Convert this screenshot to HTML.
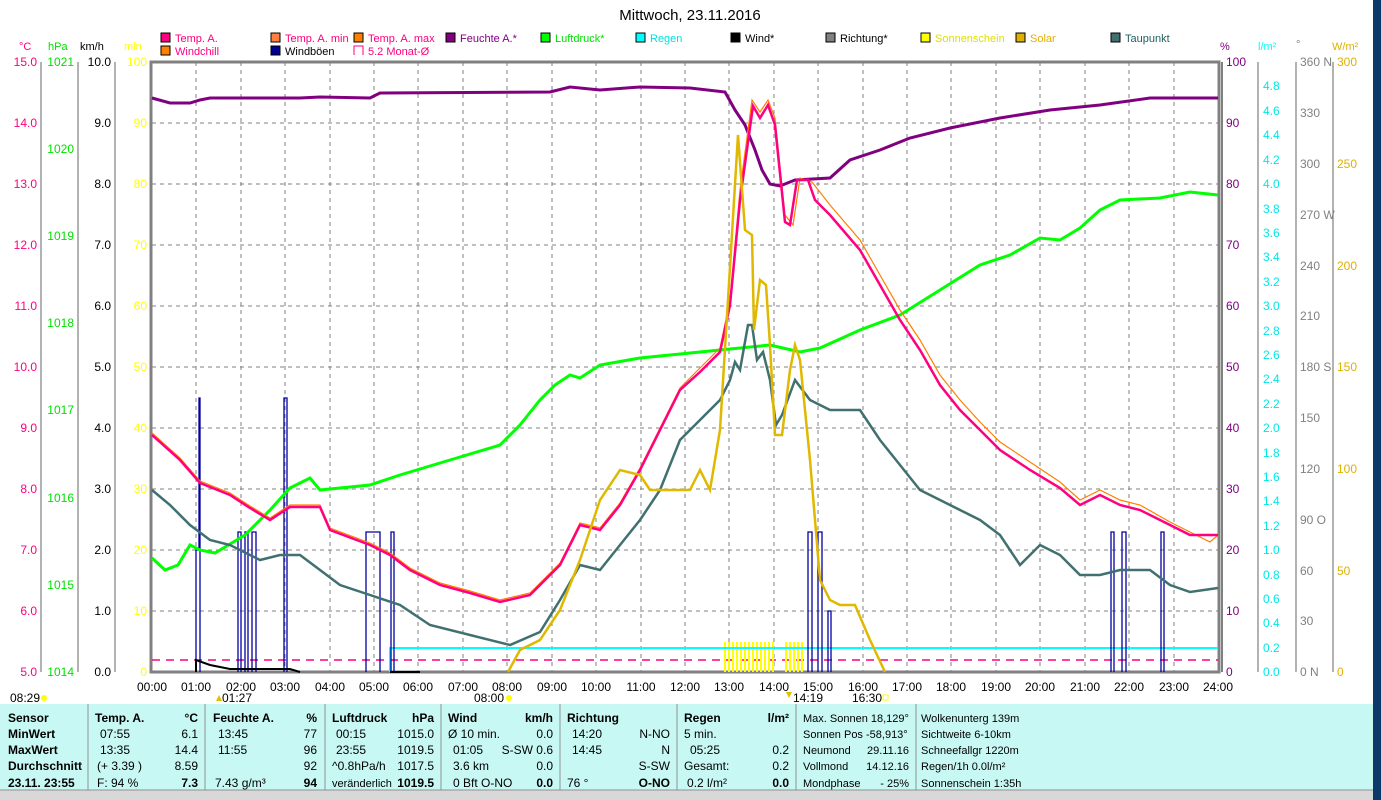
<!DOCTYPE html>
<html><head><meta charset="utf-8"><style>
body{margin:0;width:1381px;height:800px;overflow:hidden;background:#fff;font-family:"Liberation Sans",sans-serif}
svg{position:absolute;left:0;top:0}
</style></head><body>
<svg width="1381" height="800" viewBox="0 0 1381 800" font-family="Liberation Sans, sans-serif" font-size="12">
<rect x="1373" y="0" width="8" height="800" fill="#0b3a6a"/>
<text x="690" y="20" font-size="15" text-anchor="middle">Mittwoch, 23.11.2016</text>
<g font-size="11">
<rect x="161" y="33" width="9" height="9" fill="#ff0080" stroke="#000"/><text x="175" y="42" fill="#ff0080">Temp. A.</text>
<rect x="161" y="46" width="9" height="9" fill="#ff8000" stroke="#000"/><text x="175" y="55" fill="#ff0080">Windchill</text>
<rect x="271" y="33" width="9" height="9" fill="#ff8040" stroke="#000"/><text x="285" y="42" fill="#ff0080">Temp. A. min</text>
<rect x="271" y="46" width="9" height="9" fill="#000090" stroke="#000"/><text x="285" y="55">Windböen</text>
<rect x="354" y="33" width="9" height="9" fill="#ff8000" stroke="#000"/><text x="368" y="42" fill="#ff0080">Temp. A. max</text>
<path d="M354 55V46h9v9" fill="none" stroke="#ff0080"/><text x="368" y="55" fill="#ff0080">5.2 Monat-Ø</text>
<rect x="446" y="33" width="9" height="9" fill="#800080" stroke="#000"/><text x="460" y="42" fill="#800080">Feuchte A.*</text>
<rect x="541" y="33" width="9" height="9" fill="#00ff00" stroke="#000"/><text x="555" y="42" fill="#00e000">Luftdruck*</text>
<rect x="636" y="33" width="9" height="9" fill="#00ffff" stroke="#000"/><text x="650" y="42" fill="#00e0e0">Regen</text>
<rect x="731" y="33" width="9" height="9" fill="#000" stroke="#000"/><text x="745" y="42">Wind*</text>
<rect x="826" y="33" width="9" height="9" fill="#808080" stroke="#000"/><text x="840" y="42">Richtung*</text>
<rect x="921" y="33" width="9" height="9" fill="#ffff00" stroke="#000"/><text x="935" y="42" fill="#e0e000">Sonnenschein</text>
<rect x="1016" y="33" width="9" height="9" fill="#e0b000" stroke="#000"/><text x="1030" y="42" fill="#e0b000">Solar</text>
<rect x="1111" y="33" width="9" height="9" fill="#407070" stroke="#000"/><text x="1125" y="42" fill="#206060">Taupunkt</text>
</g>
<g font-size="11">
<text x="19" y="50" fill="#ff0080">°C</text><text x="48" y="50" fill="#00e000">hPa</text><text x="80" y="50">km/h</text><text x="124" y="50" fill="#ffff00">min</text>
<text x="1220" y="50" fill="#800080">%</text><text x="1258" y="50" fill="#00ffff">l/m²</text><text x="1296" y="48" fill="#808080">°</text><text x="1332" y="50" fill="#e0b000">W/m²</text>
</g>
<g stroke="#808080" stroke-width="1.2"><line x1="41" y1="62" x2="41" y2="672"/><line x1="78" y1="62" x2="78" y2="672"/><line x1="115" y1="62" x2="115" y2="672"/>
<line x1="1258" y1="62" x2="1258" y2="672"/><line x1="1296" y1="62" x2="1296" y2="672"/><line x1="1333" y1="62" x2="1333" y2="672"/></g>
<g font-size="12" text-anchor="end">
<g fill="#ff0080">
<text x="37" y="66">15.0</text><text x="37" y="127">14.0</text><text x="37" y="188">13.0</text><text x="37" y="249">12.0</text><text x="37" y="310">11.0</text><text x="37" y="371">10.0</text><text x="37" y="432">9.0</text><text x="37" y="493">8.0</text><text x="37" y="554">7.0</text><text x="37" y="615">6.0</text><text x="37" y="676">5.0</text></g>
<g fill="#00e000"><text x="74" y="66">1021</text><text x="74" y="153">1020</text><text x="74" y="240">1019</text><text x="74" y="327">1018</text><text x="74" y="414">1017</text><text x="74" y="502">1016</text><text x="74" y="589">1015</text><text x="74" y="676">1014</text></g>
<g fill="#000"><text x="111" y="66">10.0</text><text x="111" y="127">9.0</text><text x="111" y="188">8.0</text><text x="111" y="249">7.0</text><text x="111" y="310">6.0</text><text x="111" y="371">5.0</text><text x="111" y="432">4.0</text><text x="111" y="493">3.0</text><text x="111" y="554">2.0</text><text x="111" y="615">1.0</text><text x="111" y="676">0.0</text></g>
<g fill="#ffff00"><text x="147" y="66">100</text><text x="147" y="127">90</text><text x="147" y="188">80</text><text x="147" y="249">70</text><text x="147" y="310">60</text><text x="147" y="371">50</text><text x="147" y="432">40</text><text x="147" y="493">30</text><text x="147" y="554">20</text><text x="147" y="615">10</text><text x="147" y="676">0</text></g>
</g>
<g font-size="12" fill="#800080"><text x="1226" y="66">100</text><text x="1226" y="127">90</text><text x="1226" y="188">80</text><text x="1226" y="249">70</text><text x="1226" y="310">60</text><text x="1226" y="371">50</text><text x="1226" y="432">40</text><text x="1226" y="493">30</text><text x="1226" y="554">20</text><text x="1226" y="615">10</text><text x="1226" y="676">0</text></g>
<g font-size="12" fill="#00e8e8">
<text x="1263" y="90">4.8</text><text x="1263" y="115">4.6</text><text x="1263" y="139">4.4</text><text x="1263" y="164">4.2</text><text x="1263" y="188">4.0</text><text x="1263" y="213">3.8</text><text x="1263" y="237">3.6</text><text x="1263" y="261">3.4</text><text x="1263" y="286">3.2</text><text x="1263" y="310">3.0</text><text x="1263" y="335">2.8</text><text x="1263" y="359">2.6</text><text x="1263" y="383">2.4</text><text x="1263" y="408">2.2</text><text x="1263" y="432">2.0</text><text x="1263" y="457">1.8</text><text x="1263" y="481">1.6</text><text x="1263" y="505">1.4</text><text x="1263" y="530">1.2</text><text x="1263" y="554">1.0</text><text x="1263" y="579">0.8</text><text x="1263" y="603">0.6</text><text x="1263" y="627">0.4</text><text x="1263" y="652">0.2</text><text x="1263" y="676">0.0</text></g>
<g font-size="12" fill="#808080"><text x="1300" y="66">360 N</text><text x="1300" y="117">330</text><text x="1300" y="168">300</text><text x="1300" y="219">270 W</text><text x="1300" y="270">240</text><text x="1300" y="320">210</text><text x="1300" y="371">180 S</text><text x="1300" y="422">150</text><text x="1300" y="473">120</text><text x="1300" y="524">90 O</text><text x="1300" y="575">60</text><text x="1300" y="625">30</text><text x="1300" y="676">0 N</text></g>
<g font-size="12" fill="#e0b000"><text x="1337" y="66">300</text><text x="1337" y="168">250</text><text x="1337" y="270">200</text><text x="1337" y="371">150</text><text x="1337" y="473">100</text><text x="1337" y="575">50</text><text x="1337" y="676">0</text></g>
<g stroke="#808080" stroke-dasharray="4,4" stroke-width="1">
<path d="M152 123H1218M152 184H1218M152 245H1218M152 306H1218M152 367H1218M152 428H1218M152 489H1218M152 550H1218M152 611H1218"/>
<path d="M196 62V672M241 62V672M285 62V672M330 62V672M374 62V672M418 62V672M463 62V672M507 62V672M552 62V672M596 62V672M641 62V672M685 62V672M729 62V672M774 62V672M818 62V672M863 62V672M907 62V672M951 62V672M996 62V672M1040 62V672M1085 62V672M1129 62V672M1174 62V672"/>
</g>
<rect x="151" y="62" width="1068" height="610" fill="none" stroke="#808080" stroke-width="3"/>
<line x1="1222" y1="62" x2="1222" y2="672" stroke="#808080" stroke-width="2"/>
<g font-size="12" text-anchor="middle">
<text x="152" y="691">00:00</text><text x="196" y="691">01:00</text><text x="241" y="691">02:00</text><text x="285" y="691">03:00</text><text x="330" y="691">04:00</text><text x="374" y="691">05:00</text><text x="418" y="691">06:00</text><text x="463" y="691">07:00</text><text x="507" y="691">08:00</text><text x="552" y="691">09:00</text><text x="596" y="691">10:00</text><text x="641" y="691">11:00</text><text x="685" y="691">12:00</text><text x="729" y="691">13:00</text><text x="774" y="691">14:00</text><text x="818" y="691">15:00</text><text x="863" y="691">16:00</text><text x="907" y="691">17:00</text><text x="951" y="691">18:00</text><text x="996" y="691">19:00</text><text x="1040" y="691">20:00</text><text x="1085" y="691">21:00</text><text x="1129" y="691">22:00</text><text x="1174" y="691">23:00</text><text x="1218" y="691">24:00</text>
</g>
<g font-size="12"><text x="10" y="702">08:29</text><circle cx="44" cy="698" r="3" fill="#ffff00"/><text x="222" y="702">01:27</text><path d="M216 701l3-6 3 6z" fill="#e0c000"/><text x="474" y="702">08:00</text><circle cx="509" cy="698" r="3" fill="#ffff00"/><text x="793" y="702">14:19</text><path d="M786 692l3 6 3-6z" fill="#e0c000"/><text x="852" y="702">16:30</text><rect x="883" y="695" width="5" height="5" fill="none" stroke="#ffff00"/></g>
<line x1="152" y1="660" x2="1218" y2="660" stroke="#ff0080" stroke-width="1.5" stroke-dasharray="8,6"/>
<path d="M725 642V672M729 642V672M733 642V672M737 642V672M741 642V672M745 642V672M749 642V672M753 642V672M757 642V672M761 642V672M765 642V672M769 642V672M773 642V672M786 642V672M790 642V672M794 642V672M798 642V672M802 642V672" stroke="#ffff00" stroke-width="2"/>
<path d="M390 672V648H1218" fill="none" stroke="#00ffff" stroke-width="2"/>
<path d="M196 672V550H199V398H200V672M238 672V532H241V672M245 672V532H248V672M252 672V532H256V672M284 672V398H287V672M366 672V532H380V672M391 672V532H394V672M808 672V532H812V672M818 672V532H822V672M828 672V611H831V672M1111 672V532H1114V672M1122 672V532H1126V672M1161 672V532H1164V672" fill="none" stroke="#0000a0" stroke-width="1.3"/>
<path d="M196 672V660L210 665L230 669L290 669L300 672M390 672H420" fill="none" stroke="#000" stroke-width="2"/>
<polyline fill="none" stroke="#800080" stroke-width="3" points="152,98 170,103 190,103 200,100 210,98 300,98 320,97 370,98 380,93 550,92 570,87 600,90 640,87 690,88 725,92 735,110 745,125 755,150 762,170 770,184 780,186 795,180 830,178 850,160 880,150 910,138 950,128 1000,118 1050,110 1100,105 1150,98 1218,98"/>
<polyline fill="none" stroke="#00ff00" stroke-width="3" points="152,558 165,570 178,565 190,545 200,550 215,553 245,535 270,510 290,488 310,478 320,490 340,488 370,485 400,475 450,460 500,445 520,425 540,400 555,385 570,375 580,378 600,365 640,358 700,352 740,348 770,345 800,352 820,348 860,330 900,315 940,290 980,265 1010,255 1040,238 1060,240 1080,228 1100,210 1120,200 1160,198 1190,192 1218,195"/>
<polyline fill="none" stroke="#ff8000" stroke-width="1.2" points="152,433 180,458 200,481 230,493 250,506 270,518 290,505 320,505 330,528 370,543 390,553 410,568 440,583 470,591 500,600 530,593 560,563 580,523 600,528 620,503 640,468 660,428 680,388 700,368 720,348 730,300 740,190 752,100 760,112 768,100 775,118 785,215 793,225 800,178 812,182 830,205 860,240 880,275 900,310 920,340 940,375 960,400 980,422 1000,442 1030,462 1060,482 1080,500 1100,490 1120,500 1140,505 1170,522 1190,532 1210,542 1218,535"/>
<polyline fill="none" stroke="#ff0080" stroke-width="2.5" points="152,435 180,460 200,483 230,495 250,508 270,520 290,507 320,507 330,530 370,545 390,555 410,570 440,585 470,593 500,602 530,595 560,565 580,525 600,530 620,505 640,470 660,430 680,390 700,372 720,352 730,305 740,200 753,106 760,118 768,105 775,125 785,222 790,225 797,180 808,180 815,200 830,215 860,250 880,285 900,320 920,350 940,385 960,410 980,430 1000,450 1030,470 1060,488 1080,505 1100,495 1120,505 1140,510 1170,525 1190,535 1218,535"/>
<polyline fill="none" stroke="#407070" stroke-width="2.5" points="152,490 170,505 190,525 210,540 230,545 260,560 280,555 300,555 320,570 340,585 370,595 400,605 430,625 470,635 510,645 540,632 560,600 580,565 600,570 620,545 640,520 660,490 680,440 700,420 720,400 730,380 735,362 740,370 748,325 752,325 757,360 763,352 770,380 776,425 782,415 795,380 810,400 830,410 860,410 880,440 900,465 920,490 940,500 960,510 980,520 1000,535 1020,565 1040,545 1060,555 1080,575 1100,575 1120,570 1150,570 1170,585 1190,592 1218,588"/>
<polyline fill="none" stroke="#e0b800" stroke-width="2.5" points="508,672 520,650 540,640 560,610 580,560 600,500 620,470 640,475 650,490 670,490 690,490 700,470 710,490 720,430 728,300 738,135 745,230 752,235 754,330 760,280 766,285 770,345 775,435 782,435 790,370 795,345 800,360 810,460 820,580 830,600 840,605 855,605 870,640 885,672"/>
<rect x="0" y="704" width="1373" height="86" fill="#c8f8f4"/>
<rect x="0" y="790" width="1373" height="10" fill="#d8d8d8"/>
<line x1="0" y1="790" x2="1373" y2="790" stroke="#909090"/>
<g stroke="#909090"><path d="M88 704V790M205 704V790M325 704V790M441 704V790M560 704V790M677 704V790M796 704V790M916 704V790"/></g>
<g font-size="12">
<g font-weight="bold"><text x="8" y="722">Sensor</text><text x="8" y="738">MinWert</text><text x="8" y="754">MaxWert</text><text x="8" y="770">Durchschnitt</text><text x="8" y="787">23.11. 23:55</text>
<text x="95" y="722">Temp. A.</text><text x="198" y="722" text-anchor="end">°C</text>
<text x="213" y="722">Feuchte A.</text><text x="317" y="722" text-anchor="end">%</text>
<text x="332" y="722">Luftdruck</text><text x="434" y="722" text-anchor="end">hPa</text>
<text x="448" y="722">Wind</text><text x="553" y="722" text-anchor="end">km/h</text>
<text x="567" y="722">Richtung</text>
<text x="684" y="722">Regen</text><text x="789" y="722" text-anchor="end">l/m²</text>
<text x="198" y="787" text-anchor="end">7.3</text><text x="317" y="787" text-anchor="end">94</text><text x="434" y="787" text-anchor="end">1019.5</text><text x="553" y="787" text-anchor="end">0.0</text><text x="670" y="787" text-anchor="end">O-NO</text><text x="789" y="787" text-anchor="end">0.0</text></g>
<text x="100" y="738">07:55</text><text x="198" y="738" text-anchor="end">6.1</text>
<text x="100" y="754">13:35</text><text x="198" y="754" text-anchor="end">14.4</text>
<text x="97" y="770">(+ 3.39 )</text><text x="198" y="770" text-anchor="end">8.59</text>
<text x="97" y="787">F: 94 %</text>
<text x="218" y="738">13:45</text><text x="317" y="738" text-anchor="end">77</text>
<text x="218" y="754">11:55</text><text x="317" y="754" text-anchor="end">96</text>
<text x="317" y="770" text-anchor="end">92</text><text x="215" y="787">7.43 g/m³</text>
<text x="336" y="738">00:15</text><text x="434" y="738" text-anchor="end">1015.0</text>
<text x="336" y="754">23:55</text><text x="434" y="754" text-anchor="end">1019.5</text>
<text x="332" y="770">^0.8hPa/h</text><text x="434" y="770" text-anchor="end">1017.5</text>
<text x="332" y="787" font-size="11">veränderlich</text>
<text x="448" y="738">Ø 10 min.</text><text x="553" y="738" text-anchor="end">0.0</text>
<text x="453" y="754">01:05</text><text x="553" y="754" text-anchor="end">S-SW 0.6</text>
<text x="453" y="770">3.6 km</text><text x="553" y="770" text-anchor="end">0.0</text>
<text x="453" y="787">0 Bft O-NO</text>
<text x="572" y="738">14:20</text><text x="670" y="738" text-anchor="end">N-NO</text>
<text x="572" y="754">14:45</text><text x="670" y="754" text-anchor="end">N</text>
<text x="670" y="770" text-anchor="end">S-SW</text><text x="567" y="787">76 °</text>
<text x="684" y="738">5 min.</text>
<text x="690" y="754">05:25</text><text x="789" y="754" text-anchor="end">0.2</text>
<text x="684" y="770">Gesamt:</text><text x="789" y="770" text-anchor="end">0.2</text>
<text x="687" y="787">0.2 l/m²</text>
<g font-size="11"><text x="803" y="722">Max. Sonnen 18,129°</text><text x="803" y="738">Sonnen Pos  -58,913°</text><text x="803" y="754">Neumond</text><text x="909" y="754" text-anchor="end">29.11.16</text><text x="803" y="770">Vollmond</text><text x="909" y="770" text-anchor="end">14.12.16</text><text x="803" y="787">Mondphase</text><text x="909" y="787" text-anchor="end">- 25%</text>
<text x="921" y="722">Wolkenunterg  139m</text><text x="921" y="738">Sichtweite     6-10km</text><text x="921" y="754">Schneefallgr  1220m</text><text x="921" y="770">Regen/1h     0.0l/m²</text><text x="921" y="787">Sonnenschein  1:35h</text></g>
</g>
</svg>
</body></html>
